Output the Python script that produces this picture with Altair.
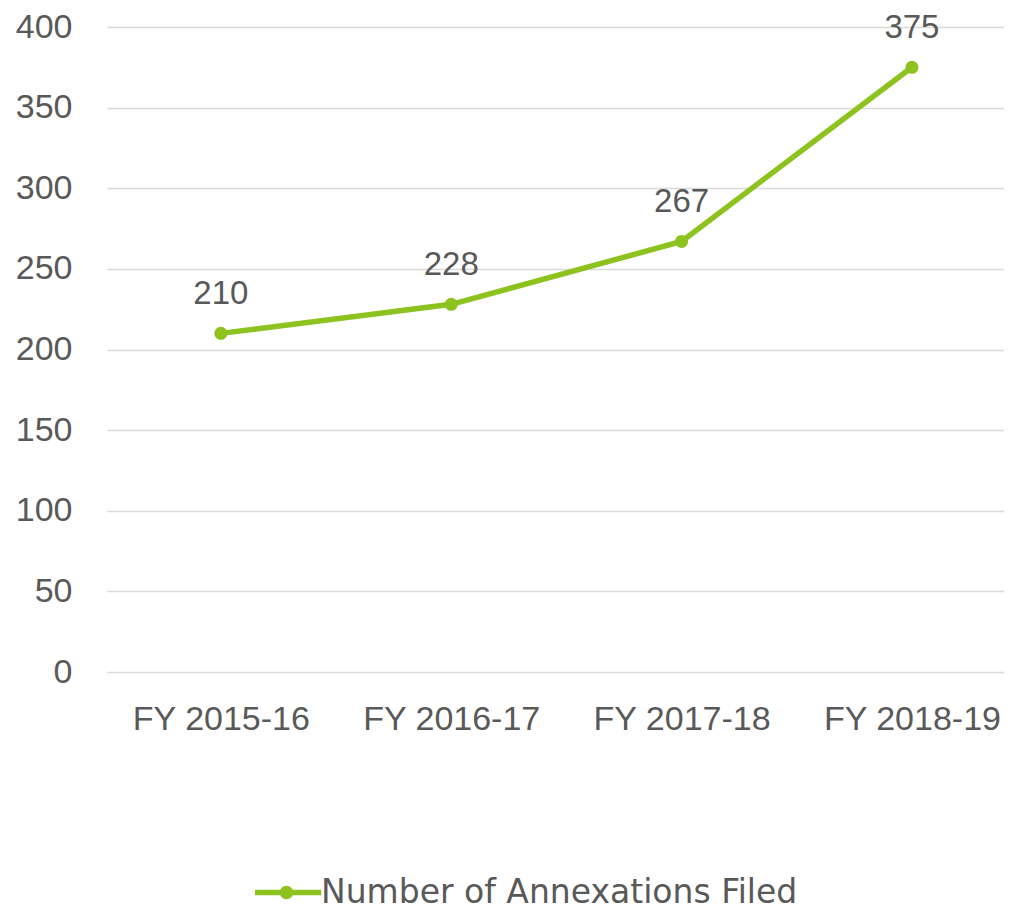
import altair as alt
import pandas as pd

categories = ["FY 2015-16", "FY 2016-17", "FY 2017-18", "FY 2018-19"]
values = [210, 228, 267, 375]
series_name = "Number of Annexations Filed"

df = pd.DataFrame({"year": categories, "value": values, "series": [series_name] * len(categories)})

GREEN = "#8dc21f"
TEXT = "#595959"
FONT = "Liberation Sans"

x = alt.X("year:N", sort=categories,
          scale=alt.Scale(type="point", padding=0.447, align=0.553),
          axis=alt.Axis(title=None, labelAngle=0, labelFontSize=34, labelFont=FONT,
                        labelColor=TEXT, labelPadding=30, ticks=False, domain=False, grid=False))
y = alt.Y("value:Q", scale=alt.Scale(domain=[0, 400], nice=False),
          axis=alt.Axis(title=None, values=[0, 50, 100, 150, 200, 250, 300, 350, 400],
                        labelFontSize=34, labelFont=FONT, labelColor=TEXT, labelPadding=35,
                        ticks=False, domain=False, gridColor="#d9d9d9", gridWidth=1.5))

base = alt.Chart(df)

line = base.mark_line(strokeWidth=5.5, strokeCap="round").encode(
    x=x, y=y,
    color=alt.Color("series:N", scale=alt.Scale(range=[GREEN]),
                    legend=alt.Legend(title=None, orient="none", legendX=145, legendY=831,
                                      symbolType="M-1,0L1.1,0M-0.13,0A0.13,0.13,0,1,1,0.13,0A0.13,0.13,0,1,1,-0.13,0Z",
                                      symbolSize=3969, symbolStrokeWidth=5.5,
                                      symbolFillColor=GREEN, symbolStrokeColor=GREEN,
                                      labelFont="DejaVu Sans", labelFontSize=33, labelColor=TEXT,
                                      labelOffset=0, padding=0, labelLimit=800))
)

points = base.mark_point(filled=True, size=170, opacity=1, color=GREEN).encode(x=x, y=y)

labels = base.mark_text(dy=-39, fontSize=33, font=FONT, color=TEXT, baseline="middle").encode(
    x=x, y=y, text=alt.Text("value:Q"))

chart = alt.layer(line, points, labels).properties(
    width=897, height=645,
    autosize=alt.AutoSizeParams(type="none"),
    padding={"left": 99, "top": 19, "right": 0, "bottom": 240},
).configure_view(stroke=None)

chart.save("out.html", embed_options={"renderer": "svg", "actions": False})
